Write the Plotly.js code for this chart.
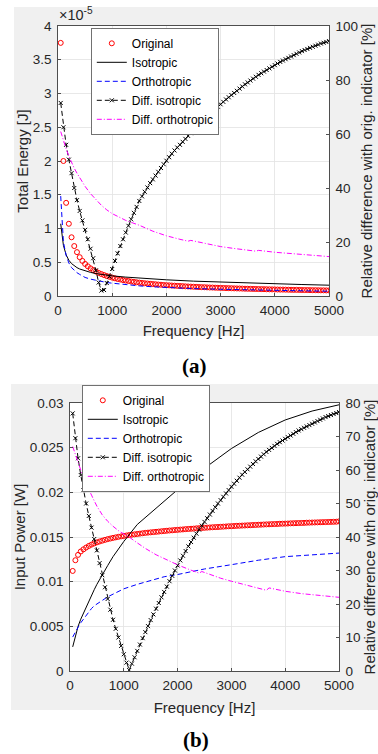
<!DOCTYPE html>
<html><head><meta charset="utf-8">
<script src="https://cdn.plot.ly/plotly-3.0.1.min.js"></script>
<style>html,body{margin:0;padding:0;background:#fff}#chart{width:378px;height:754px}</style>
</head><body><div id="chart"></div>
<script>
// ---------- shared frequency grids [Hz] ----------
const freq = [50,100,150,200,250,300,350,400,450,500,550,600,650,700,750,800,850,900,950,1000,
1050,1100,1150,1200,1250,1300,1350,1400,1450,1500,1550,1600,1650,1700,1750,1800,1850,1900,1950,2000,
2050,2100,2150,2200,2250,2300,2350,2400,2450,2500,2550,2600,2650,2700,2750,2800,2850,2900,2950,3000,
3050,3100,3150,3200,3250,3300,3350,3400,3450,3500,3550,3600,3650,3700,3750,3800,3850,3900,3950,4000,
4050,4100,4150,4200,4250,4300,4350,4400,4450,4500,4550,4600,4650,4700,4750,4800,4850,4900,4950,5000];
const freqLine = [50,100,150,200,250,300,350,400,450,500,600,700,800,900,1000,1250,1500,1750,2000,2500,3000,3500,4000,4500,5000];

// ---------- (a) Total energy [x1e-5 J] ----------
const energyOriginal = [3.75,2.00,1.38,1.07,0.87,0.74,0.65,0.575,0.52,0.475,0.44,0.41,0.385,0.362,0.342,0.325,0.310,0.296,0.284,0.272,
0.262,0.252,0.244,0.236,0.229,0.222,0.215,0.209,0.203,0.198,0.193,0.189,0.185,0.181,0.177,0.174,0.170,0.167,0.163,0.160,
0.158,0.155,0.153,0.150,0.148,0.146,0.143,0.141,0.139,0.137,0.135,0.133,0.131,0.130,0.128,0.126,0.125,0.123,0.122,0.120,
0.119,0.117,0.116,0.115,0.113,0.112,0.111,0.110,0.108,0.107,0.106,0.105,0.104,0.103,0.102,0.101,0.100,0.099,0.098,0.097,
0.096,0.095,0.095,0.094,0.093,0.092,0.091,0.091,0.090,0.089,0.088,0.088,0.087,0.086,0.086,0.085,0.084,0.084,0.083,0.0825];
const energyIsotropic = [1.07,0.75,0.61,0.53,0.48,0.445,0.42,0.40,0.385,0.372,0.35,0.332,0.318,0.307,0.298,0.280,0.265,0.252,0.240,0.220,0.205,0.192,0.180,0.170,0.160];
const energyOrthotropic = [1.48,0.80,0.60,0.49,0.42,0.375,0.345,0.32,0.30,0.275,0.25,0.23,0.215,0.20,0.19,0.168,0.15,0.136,0.125,0.11,0.10,0.09,0.083,0.077,0.071];
const energyDiffIso = [71.5,62.5,56.0,50.5,45.5,40.0,35.5,31.5,28.0,24.5,21.0,17.5,14.0,9.5,5.0,2.0,2.2,4.8,7.2,10.0,
13.0,15.8,18.5,21.0,23.5,26.0,28.4,30.8,33.0,35.2,36.9,38.6,40.2,41.8,43.2,44.6,46.0,47.4,48.8,50.1,
51.4,52.7,53.9,55.0,56.0,57.1,58.2,59.3,60.3,61.3,62.3,63.3,64.3,65.3,66.3,67.3,68.3,69.2,70.1,71.0,
71.9,72.8,73.6,74.4,75.2,76.0,76.8,77.6,78.4,79.1,79.8,80.5,81.2,81.9,82.5,83.1,83.7,84.3,84.9,85.5,
86.1,86.7,87.2,87.7,88.2,88.7,89.2,89.7,90.2,90.7,91.1,91.5,91.9,92.3,92.7,93.1,93.5,93.8,94.1,94.4];
const freqDiffOrthA = [50,100,150,200,250,300,350,400,450,500,600,700,800,900,1000,1250,1500,1750,2000,2250,2400,2450,2750,3000,3250,3650,3700,4000,4500,5000];
const energyDiffOrth = [60.9,57.5,54.5,51.8,49.4,47.3,45.5,43.8,42.2,40.6,37.9,35.7,33.6,31.9,30.5,28.0,26.2,24.0,22.3,21.0,20.3,20.6,19.2,18.3,17.6,16.6,16.9,16.2,15.4,14.6];

// ---------- (b) Input power [W] ----------
const powerOriginal = [0.0112,0.0124,0.0130,0.01338,0.01362,0.01382,0.01400,0.01415,0.01428,0.01440,0.01450,0.01459,0.01468,0.01476,0.01483,0.01490,0.01496,0.01502,0.01507,0.01512,
0.01517,0.01522,0.01526,0.01530,0.01534,0.01538,0.01542,0.01546,0.01549,0.01552,0.01555,0.01558,0.01561,0.01564,0.01567,0.01570,0.01573,0.01575,0.01578,0.01580,
0.01583,0.01585,0.01588,0.01590,0.01592,0.01594,0.01597,0.01599,0.01601,0.01603,0.01605,0.01607,0.01609,0.01611,0.01612,0.01614,0.01616,0.01618,0.01620,0.01621,
0.01623,0.01625,0.01626,0.01628,0.01629,0.01631,0.01632,0.01634,0.01635,0.01637,0.01638,0.01640,0.01641,0.01642,0.01644,0.01645,0.01646,0.01648,0.01649,0.01650,
0.01651,0.01653,0.01654,0.01655,0.01656,0.01657,0.01658,0.01660,0.01661,0.01662,0.01663,0.01664,0.01665,0.01666,0.01667,0.01668,0.01669,0.01670,0.01671,0.01675];
const powerIsotropic = [0.0027,0.0040,0.0050,0.0058,0.0065,0.0072,0.0079,0.0085,0.0091,0.0097,0.0108,0.0118,0.0128,0.0137,0.0145,0.0164,0.0177,0.0191,0.0203,0.0227,0.0249,0.0267,0.0281,0.0291,0.0298];
const powerOrthotropic = [0.0038,0.0044,0.0049,0.0054,0.0058,0.0063,0.0067,0.0070,0.0073,0.0075,0.0080,0.0083,0.0086,0.0089,0.0092,0.0097,0.0101,0.01055,0.0108,0.01142,0.0119,0.0124,0.0128,0.0130,0.0132];
const powerDiffIso = [76.9,69.5,63.5,58.5,54.0,50.0,46.3,42.8,39.4,36.0,32.2,28.6,25.0,21.5,18.3,15.3,12.6,10.0,7.5,5.0,
2.5,0.3,2.2,4.1,6.0,7.9,9.8,11.6,13.4,15.2,16.9,18.6,20.3,22.0,23.6,25.2,26.8,28.4,30.0,31.5,
33.0,34.4,35.8,37.2,38.5,39.8,41.0,42.2,43.4,44.5,45.6,46.7,47.8,48.9,50.0,51.0,52.0,53.0,54.0,55.0,
55.9,56.8,57.7,58.6,59.4,60.2,61.0,61.8,62.6,63.3,64.0,64.7,65.4,66.0,66.6,67.2,67.8,68.3,68.8,69.3,
69.8,70.3,70.8,71.3,71.8,72.2,72.6,73.0,73.4,73.8,74.2,74.6,75.0,75.4,75.8,76.1,76.4,76.7,77.0,77.3];
const freqDiffOrthB = [50,100,150,200,250,300,350,400,450,500,600,700,800,900,1000,1100,1200,1400,1600,1800,2000,2200,2400,2450,2600,2800,3000,3200,3400,3650,3700,4000,4300,4600,5000];
const powerDiffOrth = [67.0,64.5,62.3,60.0,57.8,55.9,54.2,52.5,50.8,49.2,46.6,44.7,43.2,41.9,40.9,40.0,38.8,36.6,34.7,33.1,31.7,30.4,29.2,29.7,28.8,27.7,26.8,25.9,25.1,24.1,24.8,23.8,23.1,22.6,22.0];

const names = ['Original','Isotropic','Orthotropic','Diff. isotropic','Diff. orthotropic'];
const xTicks = [0,1000,2000,3000,4000,5000];

// ---------- geometry (pixels of the 378x754 page) ----------
const W = 378, H = 754;
const px = v => v / W, py = v => 1 - v / H;
const FONT = 'Liberation Sans, Arial, Helvetica, sans-serif';
const INK = '#262626';

function traces(xax, yL, yR, legend, orig, iso, orth, dIso, dOrthX, dOrth) {
  return [
    {x: freq, y: orig, xaxis: xax, yaxis: yL, name: names[0], legend, mode: 'markers', type: 'scatter',
     marker: {symbol: 'circle-open', size: 5, color: '#ff0000', line: {width: 1, color: '#ff0000'}}},
    {x: freqLine, y: iso, xaxis: xax, yaxis: yL, name: names[1], legend, mode: 'lines', type: 'scatter',
     line: {color: '#000000', width: 1}},
    {x: freqLine, y: orth, xaxis: xax, yaxis: yL, name: names[2], legend, mode: 'lines', type: 'scatter',
     line: {color: '#0000ff', width: 1, dash: '5px,3px'}},
    {x: freq, y: dIso, xaxis: xax, yaxis: yR, name: names[3], legend, mode: 'lines+markers', type: 'scatter',
     line: {color: '#000000', width: 1, dash: '5px,3px'},
     marker: {symbol: 'x-thin', size: 4, color: '#000000', line: {width: 1, color: '#000000'}}},
    {x: dOrthX, y: dOrth, xaxis: xax, yaxis: yR, name: names[4], legend, mode: 'lines', type: 'scatter',
     line: {color: '#ff00ff', width: 1, dash: '5px,2px,1px,2px'}}
  ];
}

const data = [
  ...traces('x', 'y', 'y2', 'legend', energyOriginal, energyIsotropic, energyOrthotropic, energyDiffIso, freqDiffOrthA, energyDiffOrth),
  ...traces('x2', 'y3', 'y4', 'legend2', powerOriginal, powerIsotropic, powerOrthotropic, powerDiffIso, freqDiffOrthB, powerDiffOrth)
];

const tickFont = {family: FONT, size: 13.5, color: INK};
const titleFont = {family: FONT, size: 15, color: INK};

function xAxis(domain, anchor, standoff) {
  return {domain, anchor, range: [0, 5000], tickvals: xTicks, ticks: 'inside', ticklen: 3, tickwidth: 0.8,
    tickcolor: INK, showline: true, linecolor: INK, linewidth: 0.8, mirror: true, showgrid: true,
    gridcolor: '#e2e2e2', gridwidth: 0.8, zeroline: false, tickfont: tickFont, ticklabelstandoff: 2,
    title: {text: 'Frequency [Hz]', font: titleFont, standoff}, fixedrange: true};
}
function yLeft(domain, anchor, range, dtick, title) {
  return {domain, anchor, range, dtick, ticks: 'inside', ticklen: 3, tickwidth: 0.8, tickcolor: INK,
    showline: true, linecolor: INK, linewidth: 0.8, showgrid: true, gridcolor: '#e2e2e2', gridwidth: 0.8,
    zeroline: false, tickfont: tickFont, ticklabelstandoff: 3, title: {text: title, font: titleFont, standoff: 0}};
}
function yRight(overlaying, anchor, range, dtick) {
  return {overlaying, anchor, side: 'right', range, dtick, ticks: 'inside', ticklen: 3, tickwidth: 0.8,
    tickcolor: INK, showline: true, linecolor: INK, linewidth: 0.8, showgrid: false, zeroline: false,
    tickfont: tickFont, ticklabelstandoff: 3,
    title: {text: 'Relative difference with orig. indicator [%]', font: titleFont, standoff: 3}};
}

const legendStyle = {xanchor: 'left', yanchor: 'top', bgcolor: '#ffffff', bordercolor: '#4d4d4d', borderwidth: 0.8,
  font: {family: FONT, size: 12, color: '#000000'}, itemwidth: 30, tracegroupgap: 0};

const layout = {
  width: W, height: H, margin: {l: 0, r: 0, t: 0, b: 0}, paper_bgcolor: '#ffffff', plot_bgcolor: '#ffffff',
  showlegend: true,
  xaxis: xAxis([px(58), px(329)], 'y', 8),
  yaxis: yLeft([py(296), py(26)], 'x', [0, 4], 0.5, 'Total Energy [J]'),
  yaxis2: yRight('y', 'x', [0, 100], 20),
  xaxis2: xAxis([px(70), px(339)], 'y3', 10),
  yaxis3: yLeft([py(671), py(403)], 'x2', [0, 0.03], 0.005, 'Input Power [W]'),
  yaxis4: yRight('y3', 'x2', [0, 80], 10),
  legend: Object.assign({x: px(91), y: py(28)}, legendStyle),
  legend2: Object.assign({x: px(82), y: py(385)}, legendStyle),
  shapes: [
    {type: 'rect', xref: 'paper', yref: 'paper', x0: px(14), x1: 1, y0: py(336), y1: py(7), fillcolor: '#f0f0f0', line: {width: 0}, layer: 'below'},
    {type: 'rect', xref: 'paper', yref: 'paper', x0: px(58), x1: px(329), y0: py(296), y1: py(26), fillcolor: '#ffffff', line: {width: 0}, layer: 'below'},
    {type: 'rect', xref: 'paper', yref: 'paper', x0: px(11), x1: 1, y0: py(710), y1: py(384), fillcolor: '#f0f0f0', line: {width: 0}, layer: 'below'},
    {type: 'rect', xref: 'paper', yref: 'paper', x0: px(70), x1: px(339), y0: py(671), y1: py(403), fillcolor: '#ffffff', line: {width: 0}, layer: 'below'}
  ],
  annotations: [
    {text: '×10<sup>-5</sup>', xref: 'paper', yref: 'paper', x: px(57), y: py(25), xanchor: 'left', yanchor: 'bottom',
     showarrow: false, font: {family: FONT, size: 14.5, color: INK}},
    {text: '<b>(a)</b>', xref: 'paper', yref: 'paper', x: px(194), y: py(366), xanchor: 'center', yanchor: 'middle',
     showarrow: false, font: {family: 'Liberation Serif, Times New Roman, serif', size: 21, color: '#000000'}},
    {text: '<b>(b)</b>', xref: 'paper', yref: 'paper', x: px(196), y: py(740), xanchor: 'center', yanchor: 'middle',
     showarrow: false, font: {family: 'Liberation Serif, Times New Roman, serif', size: 21, color: '#000000'}}
  ]
};

Plotly.newPlot('chart', data, layout, {displayModeBar: false, staticPlot: true});
</script>
</body></html>
